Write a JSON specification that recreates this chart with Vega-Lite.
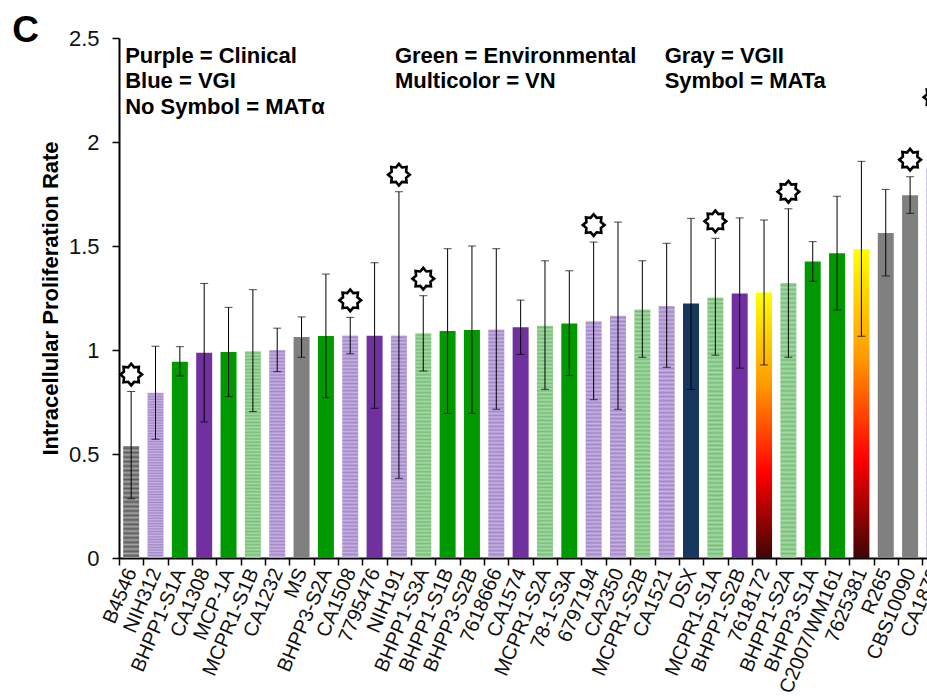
{
  "$schema": "https://vega.github.io/schema/vega-lite/v6.json",
  "autosize": {"type": "none"},
  "padding": {"left": 119, "top": 38, "right": 0, "bottom": 139},
  "width": 808,
  "height": 520,
  "background": "white",
  "config": {
    "view": {"stroke": null},
    "font": "Liberation Sans",
    "axis": {"grid": false}
  },
  "data": {
    "values": [
      {"strain": "B4546", "group": "VGII-hatched", "mat": "a", "rate": 0.539, "lo": 0.285, "hi": 0.8},
      {"strain": "NIH312", "group": "Clinical-hatched", "mat": "alpha", "rate": 0.795, "lo": 0.571, "hi": 1.018},
      {"strain": "BHPP1-S1A", "group": "Environmental", "mat": "alpha", "rate": 0.944, "lo": 0.875, "hi": 1.016},
      {"strain": "CA1308", "group": "Clinical", "mat": "alpha", "rate": 0.987, "lo": 0.654, "hi": 1.32},
      {"strain": "MCP-1A", "group": "Environmental", "mat": "alpha", "rate": 0.99, "lo": 0.776, "hi": 1.205},
      {"strain": "MCPR1-S1B", "group": "Environmental-hatched", "mat": "alpha", "rate": 0.994, "lo": 0.704, "hi": 1.29},
      {"strain": "CA1232", "group": "Clinical-hatched", "mat": "alpha", "rate": 1.0, "lo": 0.896, "hi": 1.105},
      {"strain": "MS", "group": "VGII", "mat": "alpha", "rate": 1.062, "lo": 0.965, "hi": 1.159},
      {"strain": "BHPP3-S2A", "group": "Environmental", "mat": "alpha", "rate": 1.067, "lo": 0.771, "hi": 1.365},
      {"strain": "CA1508", "group": "Clinical-hatched", "mat": "a", "rate": 1.07, "lo": 0.982, "hi": 1.157},
      {"strain": "7795476", "group": "Clinical", "mat": "alpha", "rate": 1.069, "lo": 0.72, "hi": 1.42},
      {"strain": "NIH191", "group": "Clinical-hatched", "mat": "a", "rate": 1.07, "lo": 0.383, "hi": 1.761},
      {"strain": "BHPP1-S3A", "group": "Environmental-hatched", "mat": "a", "rate": 1.08, "lo": 0.899, "hi": 1.261},
      {"strain": "BHPP1-S1B", "group": "Environmental", "mat": "alpha", "rate": 1.091, "lo": 0.695, "hi": 1.487},
      {"strain": "BHPP3-S2B", "group": "Environmental", "mat": "alpha", "rate": 1.096, "lo": 0.695, "hi": 1.5},
      {"strain": "7618666", "group": "Clinical-hatched", "mat": "alpha", "rate": 1.099, "lo": 0.715, "hi": 1.487},
      {"strain": "CA1574", "group": "Clinical", "mat": "alpha", "rate": 1.109, "lo": 0.979, "hi": 1.24},
      {"strain": "MCPR1-S2A", "group": "Environmental-hatched", "mat": "alpha", "rate": 1.117, "lo": 0.811, "hi": 1.429},
      {"strain": "78-1-S3A", "group": "Environmental", "mat": "alpha", "rate": 1.127, "lo": 0.877, "hi": 1.381},
      {"strain": "6797194", "group": "Clinical-hatched", "mat": "a", "rate": 1.138, "lo": 0.761, "hi": 1.519},
      {"strain": "CA2350", "group": "Clinical-hatched", "mat": "alpha", "rate": 1.165, "lo": 0.715, "hi": 1.615},
      {"strain": "MCPR1-S2B", "group": "Environmental-hatched", "mat": "alpha", "rate": 1.195, "lo": 0.965, "hi": 1.429},
      {"strain": "CA1521", "group": "Clinical-hatched", "mat": "alpha", "rate": 1.212, "lo": 0.917, "hi": 1.513},
      {"strain": "DSX", "group": "VGI", "mat": "alpha", "rate": 1.224, "lo": 0.81, "hi": 1.633},
      {"strain": "MCPR1-S1A", "group": "Environmental-hatched", "mat": "a", "rate": 1.253, "lo": 0.975, "hi": 1.537},
      {"strain": "BHPP1-S2B", "group": "Clinical", "mat": "alpha", "rate": 1.272, "lo": 0.913, "hi": 1.635},
      {"strain": "7618172", "group": "VN", "mat": "alpha", "rate": 1.277, "lo": 0.928, "hi": 1.625},
      {"strain": "BHPP1-S2A", "group": "Environmental-hatched", "mat": "a", "rate": 1.322, "lo": 0.965, "hi": 1.679},
      {"strain": "BHPP3-S1A", "group": "Environmental", "mat": "alpha", "rate": 1.425, "lo": 1.33, "hi": 1.521},
      {"strain": "C2007/WM161", "group": "Environmental", "mat": "alpha", "rate": 1.465, "lo": 1.192, "hi": 1.739},
      {"strain": "7625381", "group": "VN", "mat": "alpha", "rate": 1.484, "lo": 1.066, "hi": 1.907},
      {"strain": "R265", "group": "VGII", "mat": "alpha", "rate": 1.562, "lo": 1.356, "hi": 1.772},
      {"strain": "CBS10090", "group": "VGII", "mat": "a", "rate": 1.744, "lo": 1.657, "hi": 1.833},
      {"strain": "CA1873", "group": "Clinical-hatched", "mat": "a", "rate": 1.874, "lo": 1.614, "hi": 2.134}
    ]
  },
  "layer": [
    {
      "transform": [{"filter": "datum.group === 'Clinical' || datum.group === 'Environmental' || datum.group === 'VGI' || datum.group === 'VGII'"}],
      "mark": {"type": "bar", "width": {"band": 0.657}},
      "encoding": {
        "x": {
          "field": "strain",
          "type": "nominal",
          "sort": null,
          "scale": {
            "domain": ["B4546","NIH312","BHPP1-S1A","CA1308","MCP-1A","MCPR1-S1B","CA1232","MS","BHPP3-S2A","CA1508","7795476","NIH191","BHPP1-S3A","BHPP1-S1B","BHPP3-S2B","7618666","CA1574","MCPR1-S2A","78-1-S3A","6797194","CA2350","MCPR1-S2B","CA1521","DSX","MCPR1-S1A","BHPP1-S2B","7618172","BHPP1-S2A","BHPP3-S1A","C2007/WM161","7625381","R265","CBS10090","CA1873"],
            "range": [0, 827.6],
            "paddingInner": 0,
            "paddingOuter": 0
          },
          "axis": {
            "title": null,
            "tickBand": "extent",
            "labelAngle": -67,
            "labelAlign": "right",
            "labelBaseline": "middle",
            "labelFontSize": 20,
            "labelColor": "#111",
            "labelPadding": 4,
            "tickSize": 7,
            "tickColor": "#000",
            "tickWidth": 1.5,
            "domainColor": "#000",
            "domainWidth": 2
          }
        },
        "y": {
          "field": "rate",
          "type": "quantitative",
          "scale": {"domain": [0, 2.5], "nice": false, "zero": true},
          "axis": {
            "title": "Intracellular Proliferation Rate",
            "titleFontSize": 22,
            "titleFontWeight": "bold",
            "titleColor": "#000",
            "titlePadding": 6,
            "values": [0, 0.5, 1, 1.5, 2, 2.5],
            "format": "~g",
            "labelFontSize": 22,
            "labelColor": "#111",
            "labelPadding": 13,
            "tickSize": 7,
            "tickColor": "#000",
            "tickWidth": 1.5,
            "domainColor": "#000",
            "domainWidth": 2
          }
        },
        "color": {
          "field": "group",
          "type": "nominal",
          "legend": null,
          "scale": {
            "domain": ["Clinical", "Environmental", "VGI", "VGII"],
            "range": ["#7030A0", "#009900", "#17375E", "#808080"]
          }
        }
      }
    },
    {
      "transform": [{"filter": "datum.group === 'Clinical-hatched'"}],
      "mark": {
        "type": "bar",
        "width": {"band": 0.657},
        "color": {
          "gradient": "linear",
          "x1": 0, "y1": 0, "x2": 0, "y2": 1,
          "stops": [
            {"offset": 0, "color": "#C6B3E2"},{"offset": 0.008, "color": "#A386C8"},{"offset": 0.016, "color": "#C6B3E2"},{"offset": 0.024, "color": "#A386C8"},{"offset": 0.032, "color": "#C6B3E2"},{"offset": 0.04, "color": "#A386C8"},{"offset": 0.048, "color": "#C6B3E2"},{"offset": 0.056, "color": "#A386C8"},{"offset": 0.064, "color": "#C6B3E2"},{"offset": 0.072, "color": "#A386C8"},
            {"offset": 0.08, "color": "#C6B3E2"},{"offset": 0.088, "color": "#A386C8"},{"offset": 0.096, "color": "#C6B3E2"},{"offset": 0.104, "color": "#A386C8"},{"offset": 0.112, "color": "#C6B3E2"},{"offset": 0.12, "color": "#A386C8"},{"offset": 0.128, "color": "#C6B3E2"},{"offset": 0.136, "color": "#A386C8"},{"offset": 0.144, "color": "#C6B3E2"},{"offset": 0.152, "color": "#A386C8"},
            {"offset": 0.16, "color": "#C6B3E2"},{"offset": 0.168, "color": "#A386C8"},{"offset": 0.176, "color": "#C6B3E2"},{"offset": 0.184, "color": "#A386C8"},{"offset": 0.192, "color": "#C6B3E2"},{"offset": 0.2, "color": "#A386C8"},{"offset": 0.208, "color": "#C6B3E2"},{"offset": 0.216, "color": "#A386C8"},{"offset": 0.224, "color": "#C6B3E2"},{"offset": 0.232, "color": "#A386C8"},
            {"offset": 0.24, "color": "#C6B3E2"},{"offset": 0.248, "color": "#A386C8"},{"offset": 0.256, "color": "#C6B3E2"},{"offset": 0.264, "color": "#A386C8"},{"offset": 0.272, "color": "#C6B3E2"},{"offset": 0.28, "color": "#A386C8"},{"offset": 0.288, "color": "#C6B3E2"},{"offset": 0.296, "color": "#A386C8"},{"offset": 0.304, "color": "#C6B3E2"},{"offset": 0.312, "color": "#A386C8"},
            {"offset": 0.32, "color": "#C6B3E2"},{"offset": 0.328, "color": "#A386C8"},{"offset": 0.336, "color": "#C6B3E2"},{"offset": 0.344, "color": "#A386C8"},{"offset": 0.352, "color": "#C6B3E2"},{"offset": 0.36, "color": "#A386C8"},{"offset": 0.368, "color": "#C6B3E2"},{"offset": 0.376, "color": "#A386C8"},{"offset": 0.384, "color": "#C6B3E2"},{"offset": 0.392, "color": "#A386C8"},
            {"offset": 0.4, "color": "#C6B3E2"},{"offset": 0.408, "color": "#A386C8"},{"offset": 0.416, "color": "#C6B3E2"},{"offset": 0.424, "color": "#A386C8"},{"offset": 0.432, "color": "#C6B3E2"},{"offset": 0.44, "color": "#A386C8"},{"offset": 0.448, "color": "#C6B3E2"},{"offset": 0.456, "color": "#A386C8"},{"offset": 0.464, "color": "#C6B3E2"},{"offset": 0.472, "color": "#A386C8"},
            {"offset": 0.48, "color": "#C6B3E2"},{"offset": 0.488, "color": "#A386C8"},{"offset": 0.496, "color": "#C6B3E2"},{"offset": 0.504, "color": "#A386C8"},{"offset": 0.512, "color": "#C6B3E2"},{"offset": 0.52, "color": "#A386C8"},{"offset": 0.528, "color": "#C6B3E2"},{"offset": 0.536, "color": "#A386C8"},{"offset": 0.544, "color": "#C6B3E2"},{"offset": 0.552, "color": "#A386C8"},
            {"offset": 0.56, "color": "#C6B3E2"},{"offset": 0.568, "color": "#A386C8"},{"offset": 0.576, "color": "#C6B3E2"},{"offset": 0.584, "color": "#A386C8"},{"offset": 0.592, "color": "#C6B3E2"},{"offset": 0.6, "color": "#A386C8"},{"offset": 0.608, "color": "#C6B3E2"},{"offset": 0.616, "color": "#A386C8"},{"offset": 0.624, "color": "#C6B3E2"},{"offset": 0.632, "color": "#A386C8"},
            {"offset": 0.64, "color": "#C6B3E2"},{"offset": 0.648, "color": "#A386C8"},{"offset": 0.656, "color": "#C6B3E2"},{"offset": 0.664, "color": "#A386C8"},{"offset": 0.672, "color": "#C6B3E2"},{"offset": 0.68, "color": "#A386C8"},{"offset": 0.688, "color": "#C6B3E2"},{"offset": 0.696, "color": "#A386C8"},{"offset": 0.704, "color": "#C6B3E2"},{"offset": 0.712, "color": "#A386C8"},
            {"offset": 0.72, "color": "#C6B3E2"},{"offset": 0.728, "color": "#A386C8"},{"offset": 0.736, "color": "#C6B3E2"},{"offset": 0.744, "color": "#A386C8"},{"offset": 0.752, "color": "#C6B3E2"},{"offset": 0.76, "color": "#A386C8"},{"offset": 0.768, "color": "#C6B3E2"},{"offset": 0.776, "color": "#A386C8"},{"offset": 0.784, "color": "#C6B3E2"},{"offset": 0.792, "color": "#A386C8"},
            {"offset": 0.8, "color": "#C6B3E2"},{"offset": 0.808, "color": "#A386C8"},{"offset": 0.816, "color": "#C6B3E2"},{"offset": 0.824, "color": "#A386C8"},{"offset": 0.832, "color": "#C6B3E2"},{"offset": 0.84, "color": "#A386C8"},{"offset": 0.848, "color": "#C6B3E2"},{"offset": 0.856, "color": "#A386C8"},{"offset": 0.864, "color": "#C6B3E2"},{"offset": 0.872, "color": "#A386C8"},
            {"offset": 0.88, "color": "#C6B3E2"},{"offset": 0.888, "color": "#A386C8"},{"offset": 0.896, "color": "#C6B3E2"},{"offset": 0.904, "color": "#A386C8"},{"offset": 0.912, "color": "#C6B3E2"},{"offset": 0.92, "color": "#A386C8"},{"offset": 0.928, "color": "#C6B3E2"},{"offset": 0.936, "color": "#A386C8"},{"offset": 0.944, "color": "#C6B3E2"},{"offset": 0.952, "color": "#A386C8"},
            {"offset": 0.96, "color": "#C6B3E2"},{"offset": 0.968, "color": "#A386C8"},{"offset": 0.976, "color": "#C6B3E2"},{"offset": 0.984, "color": "#A386C8"},{"offset": 0.992, "color": "#C6B3E2"},{"offset": 1, "color": "#A386C8"}
          ]
        }
      },
      "encoding": {
        "x": {"field": "strain", "type": "nominal", "sort": null},
        "y": {"field": "rate", "type": "quantitative"}
      }
    },
    {
      "transform": [{"filter": "datum.group === 'Environmental-hatched'"}],
      "mark": {
        "type": "bar",
        "width": {"band": 0.657},
        "color": {
          "gradient": "linear",
          "x1": 0, "y1": 0, "x2": 0, "y2": 1,
          "stops": [
            {"offset": 0, "color": "#A8D9A8"},{"offset": 0.008, "color": "#76BF76"},{"offset": 0.016, "color": "#A8D9A8"},{"offset": 0.024, "color": "#76BF76"},{"offset": 0.032, "color": "#A8D9A8"},{"offset": 0.04, "color": "#76BF76"},{"offset": 0.048, "color": "#A8D9A8"},{"offset": 0.056, "color": "#76BF76"},{"offset": 0.064, "color": "#A8D9A8"},{"offset": 0.072, "color": "#76BF76"},
            {"offset": 0.08, "color": "#A8D9A8"},{"offset": 0.088, "color": "#76BF76"},{"offset": 0.096, "color": "#A8D9A8"},{"offset": 0.104, "color": "#76BF76"},{"offset": 0.112, "color": "#A8D9A8"},{"offset": 0.12, "color": "#76BF76"},{"offset": 0.128, "color": "#A8D9A8"},{"offset": 0.136, "color": "#76BF76"},{"offset": 0.144, "color": "#A8D9A8"},{"offset": 0.152, "color": "#76BF76"},
            {"offset": 0.16, "color": "#A8D9A8"},{"offset": 0.168, "color": "#76BF76"},{"offset": 0.176, "color": "#A8D9A8"},{"offset": 0.184, "color": "#76BF76"},{"offset": 0.192, "color": "#A8D9A8"},{"offset": 0.2, "color": "#76BF76"},{"offset": 0.208, "color": "#A8D9A8"},{"offset": 0.216, "color": "#76BF76"},{"offset": 0.224, "color": "#A8D9A8"},{"offset": 0.232, "color": "#76BF76"},
            {"offset": 0.24, "color": "#A8D9A8"},{"offset": 0.248, "color": "#76BF76"},{"offset": 0.256, "color": "#A8D9A8"},{"offset": 0.264, "color": "#76BF76"},{"offset": 0.272, "color": "#A8D9A8"},{"offset": 0.28, "color": "#76BF76"},{"offset": 0.288, "color": "#A8D9A8"},{"offset": 0.296, "color": "#76BF76"},{"offset": 0.304, "color": "#A8D9A8"},{"offset": 0.312, "color": "#76BF76"},
            {"offset": 0.32, "color": "#A8D9A8"},{"offset": 0.328, "color": "#76BF76"},{"offset": 0.336, "color": "#A8D9A8"},{"offset": 0.344, "color": "#76BF76"},{"offset": 0.352, "color": "#A8D9A8"},{"offset": 0.36, "color": "#76BF76"},{"offset": 0.368, "color": "#A8D9A8"},{"offset": 0.376, "color": "#76BF76"},{"offset": 0.384, "color": "#A8D9A8"},{"offset": 0.392, "color": "#76BF76"},
            {"offset": 0.4, "color": "#A8D9A8"},{"offset": 0.408, "color": "#76BF76"},{"offset": 0.416, "color": "#A8D9A8"},{"offset": 0.424, "color": "#76BF76"},{"offset": 0.432, "color": "#A8D9A8"},{"offset": 0.44, "color": "#76BF76"},{"offset": 0.448, "color": "#A8D9A8"},{"offset": 0.456, "color": "#76BF76"},{"offset": 0.464, "color": "#A8D9A8"},{"offset": 0.472, "color": "#76BF76"},
            {"offset": 0.48, "color": "#A8D9A8"},{"offset": 0.488, "color": "#76BF76"},{"offset": 0.496, "color": "#A8D9A8"},{"offset": 0.504, "color": "#76BF76"},{"offset": 0.512, "color": "#A8D9A8"},{"offset": 0.52, "color": "#76BF76"},{"offset": 0.528, "color": "#A8D9A8"},{"offset": 0.536, "color": "#76BF76"},{"offset": 0.544, "color": "#A8D9A8"},{"offset": 0.552, "color": "#76BF76"},
            {"offset": 0.56, "color": "#A8D9A8"},{"offset": 0.568, "color": "#76BF76"},{"offset": 0.576, "color": "#A8D9A8"},{"offset": 0.584, "color": "#76BF76"},{"offset": 0.592, "color": "#A8D9A8"},{"offset": 0.6, "color": "#76BF76"},{"offset": 0.608, "color": "#A8D9A8"},{"offset": 0.616, "color": "#76BF76"},{"offset": 0.624, "color": "#A8D9A8"},{"offset": 0.632, "color": "#76BF76"},
            {"offset": 0.64, "color": "#A8D9A8"},{"offset": 0.648, "color": "#76BF76"},{"offset": 0.656, "color": "#A8D9A8"},{"offset": 0.664, "color": "#76BF76"},{"offset": 0.672, "color": "#A8D9A8"},{"offset": 0.68, "color": "#76BF76"},{"offset": 0.688, "color": "#A8D9A8"},{"offset": 0.696, "color": "#76BF76"},{"offset": 0.704, "color": "#A8D9A8"},{"offset": 0.712, "color": "#76BF76"},
            {"offset": 0.72, "color": "#A8D9A8"},{"offset": 0.728, "color": "#76BF76"},{"offset": 0.736, "color": "#A8D9A8"},{"offset": 0.744, "color": "#76BF76"},{"offset": 0.752, "color": "#A8D9A8"},{"offset": 0.76, "color": "#76BF76"},{"offset": 0.768, "color": "#A8D9A8"},{"offset": 0.776, "color": "#76BF76"},{"offset": 0.784, "color": "#A8D9A8"},{"offset": 0.792, "color": "#76BF76"},
            {"offset": 0.8, "color": "#A8D9A8"},{"offset": 0.808, "color": "#76BF76"},{"offset": 0.816, "color": "#A8D9A8"},{"offset": 0.824, "color": "#76BF76"},{"offset": 0.832, "color": "#A8D9A8"},{"offset": 0.84, "color": "#76BF76"},{"offset": 0.848, "color": "#A8D9A8"},{"offset": 0.856, "color": "#76BF76"},{"offset": 0.864, "color": "#A8D9A8"},{"offset": 0.872, "color": "#76BF76"},
            {"offset": 0.88, "color": "#A8D9A8"},{"offset": 0.888, "color": "#76BF76"},{"offset": 0.896, "color": "#A8D9A8"},{"offset": 0.904, "color": "#76BF76"},{"offset": 0.912, "color": "#A8D9A8"},{"offset": 0.92, "color": "#76BF76"},{"offset": 0.928, "color": "#A8D9A8"},{"offset": 0.936, "color": "#76BF76"},{"offset": 0.944, "color": "#A8D9A8"},{"offset": 0.952, "color": "#76BF76"},
            {"offset": 0.96, "color": "#A8D9A8"},{"offset": 0.968, "color": "#76BF76"},{"offset": 0.976, "color": "#A8D9A8"},{"offset": 0.984, "color": "#76BF76"},{"offset": 0.992, "color": "#A8D9A8"},{"offset": 1, "color": "#76BF76"}
          ]
        }
      },
      "encoding": {
        "x": {"field": "strain", "type": "nominal", "sort": null},
        "y": {"field": "rate", "type": "quantitative"}
      }
    },
    {
      "transform": [{"filter": "datum.group === 'VGII-hatched'"}],
      "mark": {
        "type": "bar",
        "width": {"band": 0.657},
        "color": {
          "gradient": "linear",
          "x1": 0, "y1": 0, "x2": 0, "y2": 1,
          "stops": [
            {"offset": 0, "color": "#A2A2A2"},{"offset": 0.02, "color": "#5C5C5C"},{"offset": 0.04, "color": "#A2A2A2"},{"offset": 0.06, "color": "#5C5C5C"},{"offset": 0.08, "color": "#A2A2A2"},{"offset": 0.1, "color": "#5C5C5C"},{"offset": 0.12, "color": "#A2A2A2"},{"offset": 0.14, "color": "#5C5C5C"},{"offset": 0.16, "color": "#A2A2A2"},{"offset": 0.18, "color": "#5C5C5C"},
            {"offset": 0.2, "color": "#A2A2A2"},{"offset": 0.22, "color": "#5C5C5C"},{"offset": 0.24, "color": "#A2A2A2"},{"offset": 0.26, "color": "#5C5C5C"},{"offset": 0.28, "color": "#A2A2A2"},{"offset": 0.3, "color": "#5C5C5C"},{"offset": 0.32, "color": "#A2A2A2"},{"offset": 0.34, "color": "#5C5C5C"},{"offset": 0.36, "color": "#A2A2A2"},{"offset": 0.38, "color": "#5C5C5C"},
            {"offset": 0.4, "color": "#A2A2A2"},{"offset": 0.42, "color": "#5C5C5C"},{"offset": 0.44, "color": "#A2A2A2"},{"offset": 0.46, "color": "#5C5C5C"},{"offset": 0.48, "color": "#A2A2A2"},{"offset": 0.5, "color": "#5C5C5C"},{"offset": 0.52, "color": "#A2A2A2"},{"offset": 0.54, "color": "#5C5C5C"},{"offset": 0.56, "color": "#A2A2A2"},{"offset": 0.58, "color": "#5C5C5C"},
            {"offset": 0.6, "color": "#A2A2A2"},{"offset": 0.62, "color": "#5C5C5C"},{"offset": 0.64, "color": "#A2A2A2"},{"offset": 0.66, "color": "#5C5C5C"},{"offset": 0.68, "color": "#A2A2A2"},{"offset": 0.7, "color": "#5C5C5C"},{"offset": 0.72, "color": "#A2A2A2"},{"offset": 0.74, "color": "#5C5C5C"},{"offset": 0.76, "color": "#A2A2A2"},{"offset": 0.78, "color": "#5C5C5C"},
            {"offset": 0.8, "color": "#A2A2A2"},{"offset": 0.82, "color": "#5C5C5C"},{"offset": 0.84, "color": "#A2A2A2"},{"offset": 0.86, "color": "#5C5C5C"},{"offset": 0.88, "color": "#A2A2A2"},{"offset": 0.9, "color": "#5C5C5C"},{"offset": 0.92, "color": "#A2A2A2"},{"offset": 0.94, "color": "#5C5C5C"},{"offset": 0.96, "color": "#A2A2A2"},{"offset": 0.98, "color": "#5C5C5C"},
            {"offset": 1, "color": "#A2A2A2"}
          ]
        }
      },
      "encoding": {
        "x": {"field": "strain", "type": "nominal", "sort": null},
        "y": {"field": "rate", "type": "quantitative"}
      }
    },
    {
      "transform": [{"filter": "datum.group === 'VN'"}],
      "mark": {
        "type": "bar",
        "width": {"band": 0.657},
        "color": {
          "gradient": "linear",
          "x1": 0, "y1": 0, "x2": 0, "y2": 1,
          "stops": [
            {"offset": 0, "color": "#FFFF00"},
            {"offset": 0.35, "color": "#FF9900"},
            {"offset": 0.68, "color": "#FF0000"},
            {"offset": 1, "color": "#3F0505"}
          ]
        }
      },
      "encoding": {
        "x": {"field": "strain", "type": "nominal", "sort": null},
        "y": {"field": "rate", "type": "quantitative"}
      }
    },
    {
      "mark": {"type": "rule", "color": "#000", "strokeWidth": 1},
      "encoding": {
        "x": {"field": "strain", "type": "nominal", "sort": null},
        "y": {"field": "lo", "type": "quantitative"},
        "y2": {"field": "hi"}
      }
    },
    {
      "mark": {"type": "tick", "color": "#000", "size": 8, "thickness": 1},
      "encoding": {
        "x": {"field": "strain", "type": "nominal", "sort": null},
        "y": {"field": "hi", "type": "quantitative"}
      }
    },
    {
      "mark": {"type": "tick", "color": "#000", "size": 8, "thickness": 1},
      "encoding": {
        "x": {"field": "strain", "type": "nominal", "sort": null},
        "y": {"field": "lo", "type": "quantitative"}
      }
    },
    {
      "transform": [{"filter": "datum.mat === 'a'"}],
      "mark": {
        "type": "point",
        "shape": "M0,-1L0.2755,-0.6652L0.7071,-0.7071L0.6652,-0.2755L1,0L0.6652,0.2755L0.7071,0.7071L0.2755,0.6652L0,1L-0.2755,0.6652L-0.7071,0.7071L-0.6652,0.2755L-1,0L-0.6652,-0.2755L-0.7071,-0.7071L-0.2755,-0.6652Z",
        "filled": true,
        "fill": "white",
        "stroke": "#000",
        "strokeWidth": 2.6,
        "size": 470,
        "opacity": 1,
        "yOffset": -17
      },
      "encoding": {
        "x": {"field": "strain", "type": "nominal", "sort": null},
        "y": {"field": "hi", "type": "quantitative"}
      }
    },
    {
      "data": {"values": [{}]},
      "mark": {"type": "text", "text": "C", "align": "left", "baseline": "alphabetic", "fontSize": 37, "fontWeight": "bold", "color": "#000", "dx": -119, "dy": 4},
      "encoding": {"x": {"datum": "B4546"}, "y": {"datum": 2.5}}
    },
    {
      "data": {"values": [{}]},
      "mark": {"type": "text", "text": ["Purple = Clinical", "Blue = VGI", "No Symbol = MATα"], "align": "left", "baseline": "alphabetic", "fontSize": 22, "fontWeight": "bold", "lineHeight": 25.5, "color": "#000", "dx": -6},
      "encoding": {"x": {"datum": "B4546"}, "y": {"datum": 2.38}}
    },
    {
      "data": {"values": [{}]},
      "mark": {"type": "text", "text": ["Green = Environmental", "Multicolor = VN"], "align": "left", "baseline": "alphabetic", "fontSize": 22, "fontWeight": "bold", "lineHeight": 25.5, "color": "#000", "dx": -4},
      "encoding": {"x": {"datum": "NIH191"}, "y": {"datum": 2.38}}
    },
    {
      "data": {"values": [{}]},
      "mark": {"type": "text", "text": ["Gray = VGII", "Symbol = MATa"], "align": "left", "baseline": "alphabetic", "fontSize": 22, "fontWeight": "bold", "lineHeight": 25.5, "color": "#000", "dx": -2},
      "encoding": {"x": {"datum": "CA1521"}, "y": {"datum": 2.38}}
    }
  ]
}
